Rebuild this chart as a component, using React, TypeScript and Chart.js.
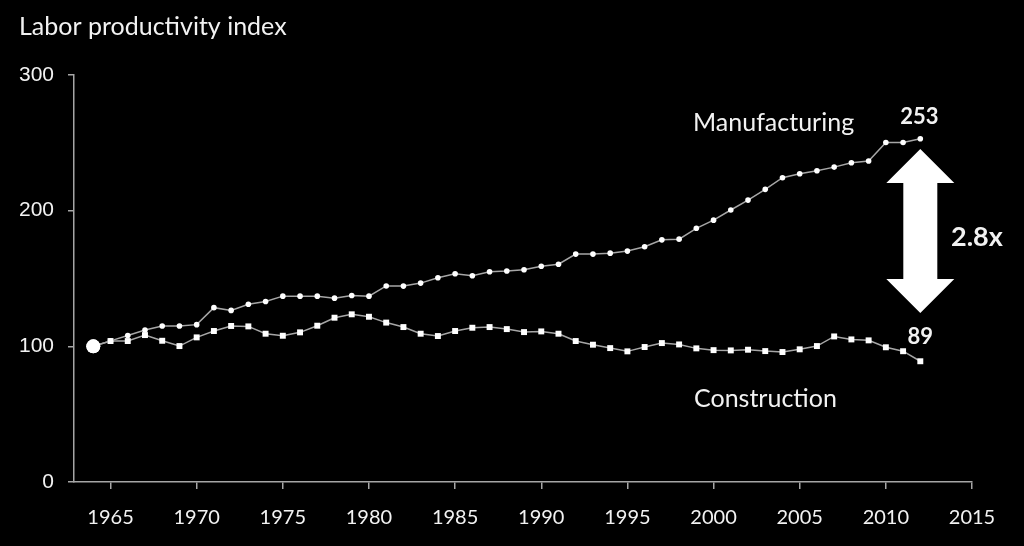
import React, { useEffect, useRef } from "react";
import { Chart, registerables } from "chart.js";

Chart.register(...registerables);

const years: number[] = [
  1964, 1965, 1966, 1967, 1968, 1969, 1970, 1971, 1972, 1973, 1974, 1975, 1976, 1977, 1978, 1979,
  1980, 1981, 1982, 1983, 1984, 1985, 1986, 1987, 1988, 1989, 1990, 1991, 1992, 1993, 1994, 1995,
  1996, 1997, 1998, 1999, 2000, 2001, 2002, 2003, 2004, 2005, 2006, 2007, 2008, 2009, 2010, 2011, 2012,
];

const manufacturing: number[] = [
  100, 104, 108, 112, 115, 115, 116, 128.5, 126.5, 131, 133, 137, 137, 137, 135.5, 137.5,
  137, 144.5, 144.4, 146.6, 150.6, 153.5, 152, 155, 155.5, 156.5, 159, 160.5, 168, 168, 168.7, 170.2,
  173.4, 178.5, 179, 187, 193, 200.5, 207.8, 215.7, 224.3, 227.2, 229.4, 232.1, 235.3, 236.6, 250.3, 250.3, 253,
];

const construction: number[] = [
  100, 103.9, 103.9, 108.3, 104.1, 100.2, 106.6, 111.3, 115, 114.7, 109.3, 107.8, 110.3, 115.2, 121.1, 123.6,
  121.8, 117.5, 114.2, 109.3, 107.6, 111.3, 113.7, 114.2, 112.7, 110.5, 111, 109.3, 103.9, 101.2, 98.7, 96.3,
  99.5, 102.4, 101.4, 98.5, 97.2, 97, 97.5, 96.5, 95.8, 97.8, 100.2, 107.3, 105.1, 104.4, 99.3, 96.4, 89,
];

const xTicks: number[] = [1965, 1970, 1975, 1980, 1985, 1990, 1995, 2000, 2005, 2010, 2015];
const yTicks: number[] = [0, 100, 200, 300];

const titleText = "Labor productivity index";
const seriesNames = ["Manufacturing", "Construction"];
const ratioLabel = "2.8x";

const AXIS = "#a6a6a6";
const TEXT = "#f2f2f2";
const CAL = "Lato, 'Open Sans', sans-serif";

const annotationPlugin = {
  id: "annotations",
  afterDraw(chart: any) {
    const ctx = chart.ctx as CanvasRenderingContext2D;
    const xs = chart.scales.x;
    const ys = chart.scales.y;
    const lastYear = years[years.length - 1];
    const lastM = manufacturing[manufacturing.length - 1];
    const lastC = construction[construction.length - 1];
    ctx.save();
    ctx.fillStyle = TEXT;
    ctx.textBaseline = "alphabetic";

    // title
    ctx.font = `25px ${CAL}`;
    ctx.textAlign = "left";
    ctx.fillText(titleText, 19, 35);

    // series labels
    ctx.font = `25px ${CAL}`;
    ctx.fillText(seriesNames[0], 693, 131);
    ctx.fillText(seriesNames[1], 694, 407);

    // end value labels
    const cx = xs.getPixelForValue(lastYear);
    ctx.font = `bold 22px ${CAL}`;
    ctx.textAlign = "center";
    ctx.fillText(String(Math.round(lastM)), cx - 1, ys.getPixelForValue(lastM) - 15);
    ctx.fillText(String(Math.round(lastC)), cx, ys.getPixelForValue(lastC) - 17);

    // double arrow
    const top = ys.getPixelForValue(245.5);
    const bot = ys.getPixelForValue(124.5);
    const headH = 34;
    const headW = 34;
    const shaftW = 17;
    ctx.fillStyle = "#ffffff";
    ctx.beginPath();
    ctx.moveTo(cx, top);
    ctx.lineTo(cx + headW, top + headH);
    ctx.lineTo(cx + shaftW, top + headH);
    ctx.lineTo(cx + shaftW, bot - headH);
    ctx.lineTo(cx + headW, bot - headH);
    ctx.lineTo(cx, bot);
    ctx.lineTo(cx - headW, bot - headH);
    ctx.lineTo(cx - shaftW, bot - headH);
    ctx.lineTo(cx - shaftW, top + headH);
    ctx.lineTo(cx - headW, top + headH);
    ctx.closePath();
    ctx.fill();

    ctx.fillStyle = TEXT;
    ctx.font = `bold 27px ${CAL}`;
    ctx.textAlign = "left";
    ctx.fillText(ratioLabel, 951, 246);
    ctx.restore();
  },
};

export default function App() {
  const ref = useRef<HTMLCanvasElement>(null);

  useEffect(() => {
    document.body.style.margin = "0";
    document.body.style.background = "#000";
    const canvas = ref.current;
    if (!canvas) return;
    const chart = new Chart(canvas, {
      type: "line",
      data: {
        datasets: [
          {
            label: seriesNames[0],
            data: years.map((y, i) => ({ x: y, y: manufacturing[i] })),
            borderColor: AXIS,
            borderWidth: 1.5,
            pointStyle: "circle",
            pointRadius: (c: any) => (c.dataIndex === 0 ? 7 : 2.8),
            pointBackgroundColor: "#ffffff",
            pointBorderWidth: 0,
            tension: 0,
          },
          {
            label: seriesNames[1],
            data: years.map((y, i) => ({ x: y, y: construction[i] })),
            borderColor: AXIS,
            borderWidth: 1.5,
            pointStyle: (c: any) => (c.dataIndex === 0 ? "circle" : "rect"),
            pointRadius: (c: any) => (c.dataIndex === 0 ? 7 : 4.2),
            pointBackgroundColor: "#ffffff",
            pointBorderWidth: 0,
            tension: 0,
          },
        ],
      },
      options: {
        animation: false,
        responsive: false,
        maintainAspectRatio: false,
        layout: { padding: { top: 75, right: 52, left: 0, bottom: 0 } },
        plugins: { legend: { display: false }, tooltip: { enabled: false }, title: { display: false } },
        scales: {
          x: {
            type: "linear",
            min: 1962.88,
            max: 2015,
            afterFit: (s: any) => {
              s.height = 64;
            },
            afterBuildTicks: (s: any) => {
              s.ticks = xTicks.map((v) => ({ value: v }));
            },
            grid: { drawOnChartArea: false, drawTicks: true, tickLength: 7, color: AXIS, lineWidth: 1.5 },
            border: { display: true, color: AXIS, width: 1.5 },
            ticks: {
              color: TEXT,
              font: { family: CAL, size: 20 },
              padding: 17,
              maxRotation: 0,
              autoSkip: false,
              callback: (v: any) => String(v),
            },
          },
          y: {
            type: "linear",
            min: 0,
            max: 300,
            afterFit: (s: any) => {
              s.width = 74;
            },
            afterBuildTicks: (s: any) => {
              s.ticks = yTicks.map((v) => ({ value: v }));
            },
            grid: { drawOnChartArea: false, drawTicks: true, tickLength: 6, color: AXIS, lineWidth: 1.5 },
            border: { display: true, color: AXIS, width: 1.5 },
            ticks: {
              color: TEXT,
              font: { family: "'Liberation Sans', Arial, sans-serif", size: 21 },
              padding: 14,
              autoSkip: false,
              callback: (v: any) => String(v),
            },
          },
        },
      },
      plugins: [annotationPlugin],
    });
    return () => chart.destroy();
  }, []);

  return (
    <div style={{ position: "fixed", left: 0, top: 0, width: 1024, height: 546, background: "#000" }}>
      <canvas ref={ref} width={1024} height={546} style={{ display: "block", width: 1024, height: 546 }} />
    </div>
  );
}
